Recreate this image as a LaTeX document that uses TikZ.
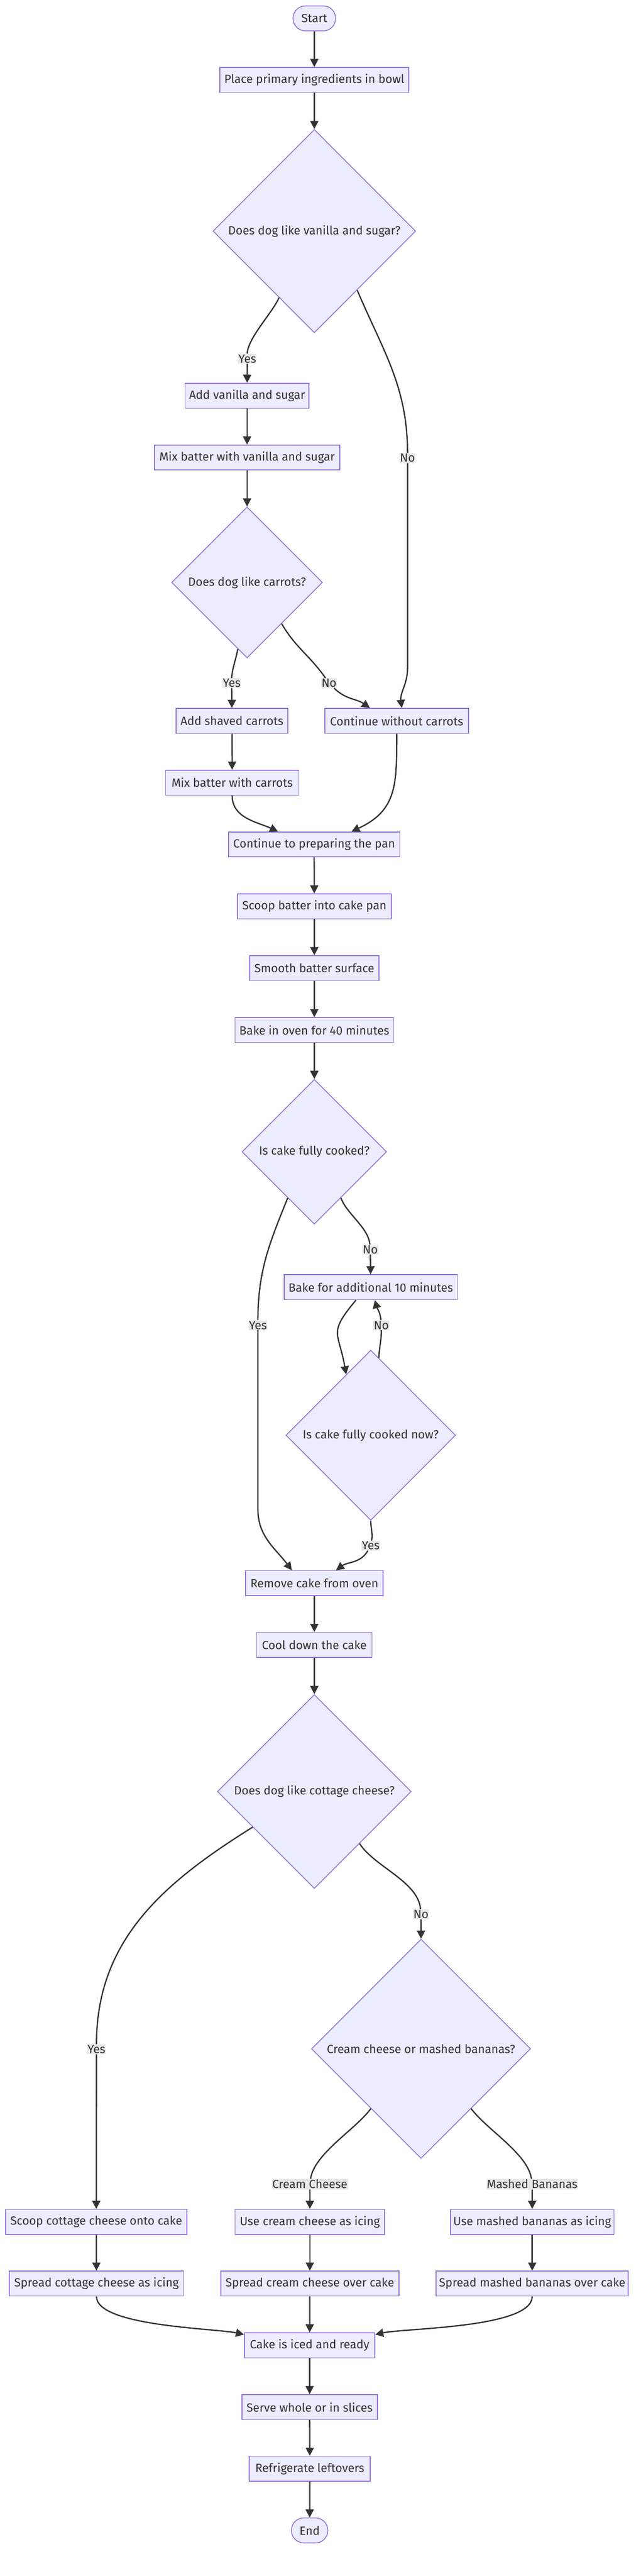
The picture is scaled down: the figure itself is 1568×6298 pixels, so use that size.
\documentclass[tikz,border=0pt]{standalone}
\usepackage{fontspec}
\setmainfont{Fira Sans}
\usetikzlibrary{shapes.geometric,arrows.meta}
\definecolor{boxfill}{HTML}{ECECFF}
\definecolor{boxline}{HTML}{9370DB}
\definecolor{ink}{HTML}{333333}
\definecolor{lblfill}{HTML}{E8E8E8}

\begin{document}
\begin{tikzpicture}[x=1pt,y=1pt,
    every node/.style={text=ink,font=\fontsize{29}{34}\selectfont},
    proc/.style={draw=boxline,fill=boxfill,line width=2pt,minimum height=61pt,inner xsep=3pt,inner ysep=0pt},
    term/.style={proc,rounded corners=30pt},
    ask/.style={proc,shape=diamond,inner sep=0pt},
    lbl/.style={fill=lblfill,inner xsep=1pt,inner ysep=2pt},
    flow/.style={draw=ink,line width=3.2pt,-{Triangle[length=20pt,width=20pt]}}]
        \useasboundingbox (0,0) rectangle (1568,-6298);
        \node[term,minimum width=104pt] (start) at (769,-45) {Start};
        \node[proc,minimum width=462pt] (bowl) at (769,-195.5) {Place primary ingredients in bowl};
        \node[ask,minimum width=496pt,minimum height=497pt] (likevan) at (769,-565) {Does dog like vanilla and sugar?};
        \node[proc,minimum width=303pt] (addvan) at (604.5,-967.5) {Add vanilla and sugar};
        \node[proc,minimum width=453pt] (mixvan) at (604.5,-1118.5) {Mix batter with vanilla and sugar};
        \node[ask,minimum width=369pt,minimum height=369pt] (likecar) at (604.5,-1424) {Does dog like carrots?};
        \node[proc,minimum width=273pt] (addcar) at (567.5,-1762.5) {Add shaved carrots};
        \node[proc,minimum width=351pt] (nocar) at (970.5,-1762.5) {Continue without carrots};
        \node[proc,minimum width=326pt] (mixcar) at (568,-1913.5) {Mix batter with carrots};
        \node[proc,minimum width=419pt] (pan) at (768.5,-2064.5) {Continue to preparing the pan};
        \node[proc,minimum width=376pt] (scoop) at (769,-2216) {Scoop batter into cake pan};
        \node[proc,minimum width=316pt] (smooth) at (769,-2367) {Smooth batter surface};
        \node[proc,minimum width=388pt] (bake) at (769,-2518.5) {Bake in oven for 40 minutes};
        \node[ask,minimum width=354pt,minimum height=354pt] (cooked) at (769,-2816) {Is cake fully cooked?};
        \node[proc,minimum width=424pt] (extra) at (907,-3147) {Bake for additional 10 minutes};
        \node[ask,minimum width=415pt,minimum height=416pt] (cookednow) at (907,-3509) {Is cake fully cooked now?};
        \node[proc,minimum width=336pt] (remove) at (769,-3870.5) {Remove cake from oven};
        \node[proc,minimum width=282pt] (cool) at (769,-4021.5) {Cool down the cake};
        \node[ask,minimum width=474pt,minimum height=474pt] (likecot) at (769,-4380) {Does dog like cottage cheese?};
        \node[ask,minimum width=536pt,minimum height=536pt] (icing) at (1030,-5009) {Cream cheese or mashed bananas?};
        \node[proc,minimum width=443pt] (scoopcot) at (235.5,-5432) {Scoop cottage cheese onto cake};
        \node[proc,minimum width=366pt] (usecream) at (758,-5432) {Use cream cheese as icing};
        \node[proc,minimum width=400pt] (useban) at (1302,-5432) {Use mashed bananas as icing};
        \node[proc,minimum width=426pt] (spreadcot) at (236,-5583) {Spread cottage cheese as icing};
        \node[proc,minimum width=436pt] (spreadcream) at (758,-5583) {Spread cream cheese over cake};
        \node[proc,minimum width=470pt] (spreadban) at (1302,-5583) {Spread mashed bananas over cake};
        \node[proc,minimum width=319pt] (iced) at (757.5,-5734) {Cake is iced and ready};
        \node[proc,minimum width=331pt] (serve) at (757.5,-5885) {Serve whole or in slices};
        \node[proc,minimum width=296pt] (fridge) at (758,-6035.5) {Refrigerate leftovers};
        \node[term,minimum width=89pt] (stop) at (757.5,-6186.5) {End};
        \node[lbl] (yesvan) at (605,-877) {Yes};
        \node[lbl] (novan) at (997,-1120) {No};
        \node[lbl] (yescar) at (567,-1670) {Yes};
        \node[lbl] (nocarl) at (805,-1670) {No};
        \node[lbl] (nobake) at (906,-3055) {No};
        \node[lbl] (yesbake) at (631,-3240) {Yes};
        \node[lbl] (noagain) at (933,-3240) {No};
        \node[lbl] (yesagain) at (907,-3779) {Yes};
        \node[lbl] (nocot) at (1030,-4680) {No};
        \node[lbl] (yescot) at (236,-5010) {Yes};
        \node[lbl] (creamlbl) at (758,-5340) {Cream Cheese};
        \node[lbl] (bananalbl) at (1302,-5340) {Mashed Bananas};
        \draw[flow] (start) -- (bowl);
        \draw[flow] (bowl) -- (likevan);
        \draw[flow] (likevan.242) to[out=-112,in=90,looseness=0.6] (yesvan) -- (addvan);
        \draw[flow] (likevan.-54) to[out=-67,in=90] (novan) -- ++(0,-514) to[out=-90,in=97] ([xshift=12.5pt]nocar.north);
        \draw[flow] (addvan) -- (mixvan);
        \draw[flow] (mixvan) -- (likecar);
        \draw[flow] (likecar.262) to[out=-98,in=90,looseness=0.7] (yescar) -- (addcar);
        \draw[flow] (likecar.-50) to[out=-60,in=125] (nocarl) to[out=-45,in=145] ([xshift=-65.5pt]nocar.north);
        \draw[flow] (addcar) -- (mixcar);
        \draw[flow] (mixcar) to[out=-90,in=155] ([xshift=-88.5pt]pan.north);
        \draw[flow] (nocar) to[out=-90,in=25,looseness=1.2] ([xshift=91.5pt]pan.north);
        \draw[flow] (pan) -- (scoop);
        \draw[flow] (scoop) -- (smooth);
        \draw[flow] (smooth) -- (bake);
        \draw[flow] (bake) -- (cooked);
        \draw[flow] (cooked.240) to[out=-112,in=90] (yesbake) -- ++(0,-450) to[out=-90,in=127] ([xshift=-55pt]remove.north);
        \draw[flow] (cooked.-60) to[out=-70,in=95,looseness=0.8] (nobake) -- (extra);
        \draw[flow] ([xshift=-36pt]extra.south) to[out=-130,in=100,looseness=1.5] (cookednow.112.6);
        \draw[flow] (cookednow.84) to[out=88,in=-90] (noagain) to[out=95,in=-75] ([xshift=10pt]extra.south);
        \draw[flow] (cookednow.south) to[out=-90,in=80] (yesagain) to[out=-120,in=36] ([xshift=53pt]remove.north);
        \draw[flow] (remove) -- (cool);
        \draw[flow] (cool) -- (likecot);
        \draw[flow] (likecot.210) to[out=-148,in=90] (yescot) -- (scoopcot);
        \draw[flow] (likecot.-49) to[out=-57,in=95,looseness=0.8] (nocot) -- (icing);
        \draw[flow] (icing.230) to[out=-126,in=82,looseness=0.7] (creamlbl) -- (usecream);
        \draw[flow] (icing.-50) to[out=-54,in=98,looseness=0.7] (bananalbl) -- (useban);
        \draw[flow] (scoopcot) -- (spreadcot);
        \draw[flow] (usecream) -- (spreadcream);
        \draw[flow] (useban) -- (spreadban);
        \draw[flow] (spreadcot) to[out=-90,in=168,looseness=0.5] ([yshift=-5pt]iced.north west);
        \draw[flow] (spreadcream) -- (iced);
        \draw[flow] (spreadban) to[out=-90,in=12,looseness=0.5] ([yshift=-5pt]iced.north east);
        \draw[flow] (iced) -- (serve);
        \draw[flow] (serve) -- (fridge);
        \draw[flow] (fridge) -- (stop);
\end{tikzpicture}
\end{document}
